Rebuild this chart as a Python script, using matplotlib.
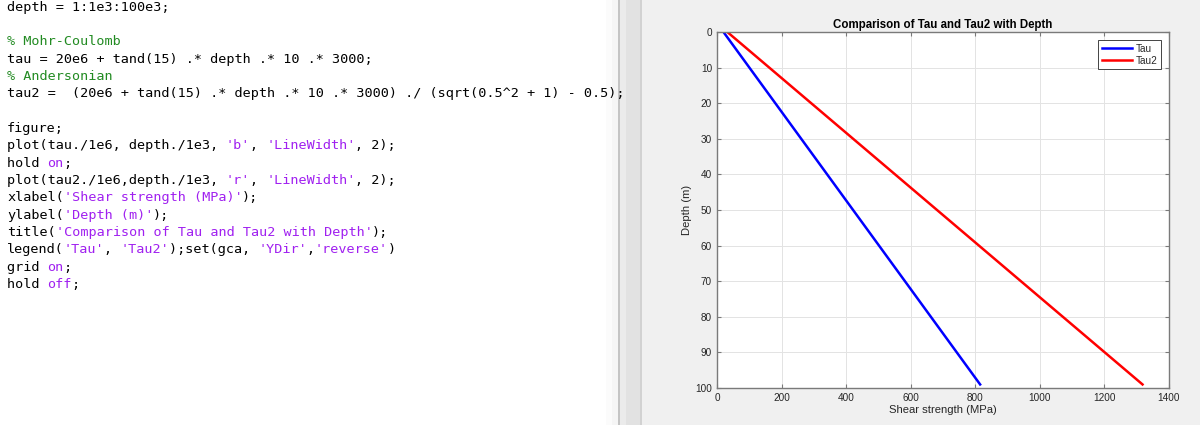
import matplotlib
matplotlib.use("Agg")
import matplotlib.pyplot as plt
from matplotlib.patches import Rectangle

# values (two end points of each straight line)
depth = [0.001, 99.001]
tau = [20, 815]
tau2 = [32, 1318]
xticks = [0, 200, 400, 600, 800, 1000, 1200, 1400]
yticks = [0, 10, 20, 30, 40, 50, 60, 70, 80, 90, 100]

W, H = 1200, 425
BLACK = "#000000"
GREEN = "#228b22"
PURPLE = "#a020f0"

# editor code lines, split into coloured pieces
code_lines = [
    [("depth = 1:1e3:100e3;", BLACK)],
    [],
    [("% Mohr-Coulomb", GREEN)],
    [("tau = 20e6 + tand(15) .* depth .* 10 .* 3000;", BLACK)],
    [("% Andersonian", GREEN)],
    [("tau2 =  (20e6 + tand(15) .* depth .* 10 .* 3000) ./ (sqrt(0.5^2 + 1) - 0.5);", BLACK)],
    [],
    [("figure;", BLACK)],
    [("plot(tau./1e6, depth./1e3, ", BLACK), ("'b'", PURPLE), (", ", BLACK),
     ("'LineWidth'", PURPLE), (", 2);", BLACK)],
    [("hold ", BLACK), ("on", PURPLE), (";", BLACK)],
    [("plot(tau2./1e6,depth./1e3, ", BLACK), ("'r'", PURPLE), (", ", BLACK),
     ("'LineWidth'", PURPLE), (", 2);", BLACK)],
    [("xlabel(", BLACK), ("'Shear strength (MPa)'", PURPLE), (");", BLACK)],
    [("ylabel(", BLACK), ("'Depth (m)'", PURPLE), (");", BLACK)],
    [("title(", BLACK), ("'Comparison of Tau and Tau2 with Depth'", PURPLE), (");", BLACK)],
    [("legend(", BLACK), ("'Tau'", PURPLE), (", ", BLACK), ("'Tau2'", PURPLE),
     (");set(gca, ", BLACK), ("'YDir'", PURPLE), (",", BLACK), ("'reverse'", PURPLE), (")", BLACK)],
    [("grid ", BLACK), ("on", PURPLE), (";", BLACK)],
    [("hold ", BLACK), ("off", PURPLE), (";", BLACK)],
]

fig = plt.figure(figsize=(12, 4.25), dpi=100)
fig.patch.set_facecolor("white")


def px(x, y):
    return x / W, 1 - y / H


def rect(x0, x1, color):
    fig.add_artist(Rectangle((x0 / W, 0), (x1 - x0) / W, 1, transform=fig.transFigure,
                             facecolor=color, edgecolor="none", zorder=0))


# editor shadow, splitter and figure window background
rect(606, 612, "#fbfbfb")
rect(612, 618, "#f5f5f5")
rect(618, 619.5, "#c4c4c4")
rect(619.5, 626, "#ebebeb")
rect(626, 640, "#e2e2e2")
rect(640, 641.5, "#d2d2d2")
rect(641.5, 1200, "#f0f0f0")

# code text
charw = 8.1
for i, parts in enumerate(code_lines):
    col = 0
    yb = 10.5 + 17.35 * i
    for txt, c in parts:
        fig.text(*px(7 + col * charw, yb), txt, color=c, family="DejaVu Sans Mono",
                 fontsize=9.7, va="baseline", ha="left", zorder=3)
        col += len(txt)

# plot
plt.rcParams["font.family"] = ["Liberation Sans", "DejaVu Sans"]
ax = fig.add_axes([717 / W, 1 - 388 / H, 452 / W, 356 / H])
ax.set_facecolor("white")
ax.plot(tau, depth, color="#0000ff", lw=1.8, label="Tau")
ax.plot(tau2, depth, color="#ff0000", lw=1.8, label="Tau2")
ax.set_xlim(0, 1400)
ax.set_ylim(100, 0)
ax.set_xticks(xticks)
ax.set_yticks(yticks)
ax.grid(True, color="#e3e3e3", lw=0.7)
ax.set_axisbelow(True)
for s in ax.spines.values():
    s.set_color("#7a7a7a")
    s.set_linewidth(1.0)
ax.tick_params(direction="in", length=3, width=0.8, color="#7a7a7a", labelsize=7.2,
               labelcolor="#262626", top=True, right=True, pad=3.5)
ax.set_xlabel("Shear strength (MPa)", fontsize=8.1, color="#262626", labelpad=1.5)
ax.set_ylabel("Depth (m)", fontsize=8.1, color="#262626", labelpad=2)
ax.set_title("Comparison of Tau and Tau2 with Depth", fontsize=8.3, fontweight="bold",
             color="#000000", pad=3)
leg = ax.legend(loc="upper right", bbox_to_anchor=px(1161, 40), bbox_transform=fig.transFigure,
                fontsize=7.2, fancybox=False, framealpha=1, edgecolor="#262626",
                handlelength=3.0, handletextpad=0.4, labelspacing=0.2,
                borderpad=0.35, borderaxespad=0)
leg.get_frame().set_linewidth(0.6)
for t in leg.get_texts():
    t.set_color("#262626")

fig.savefig("out.png", dpi=100, facecolor=fig.get_facecolor())
